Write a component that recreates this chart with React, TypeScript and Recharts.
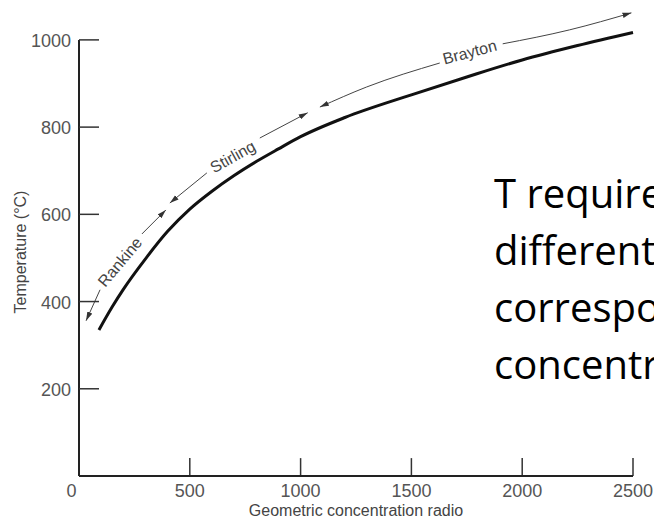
import React from 'react';
import { ComposedChart, Line, XAxis, YAxis, ReferenceLine, Scatter } from 'recharts';

// Geometric concentration ratio vs required temperature (°C)
const curve = [
  { c: 90, t: 335 },
  { c: 150, t: 388 },
  { c: 200, t: 428 },
  { c: 300, t: 498 },
  { c: 400, t: 561 },
  { c: 500, t: 612 },
  { c: 600, t: 653 },
  { c: 700, t: 689 },
  { c: 800, t: 721 },
  { c: 900, t: 750 },
  { c: 1000, t: 778 },
  { c: 1200, t: 822 },
  { c: 1500, t: 874 },
  { c: 1750, t: 915 },
  { c: 2000, t: 954 },
  { c: 2250, t: 987 },
  { c: 2500, t: 1017 },
];

// Engine range annotation arrows (data coordinates)
const rankineLow = [{ c: 32, t: 356 }, { c: 95, t: 427 }];
const rankineHigh = [{ c: 284, t: 555 }, { c: 392, t: 610 }];
const stirlingLow = [{ c: 410, t: 626 }, { c: 577, t: 695 }];
const stirlingHigh = [{ c: 816, t: 775 }, { c: 1032, t: 833 }];
const braytonLow = [{ c: 1087, t: 846 }, { c: 1298, t: 892 }, { c: 1628, t: 947 }];
const braytonHigh = [{ c: 1912, t: 991 }, { c: 2214, t: 1023 }, { c: 2493, t: 1062 }];

const engineLabels = [
  { c: 185, t: 491, name: 'Rankine' },
  { c: 694, t: 732, name: 'Stirling' },
  { c: 1763, t: 972, name: 'Brayton' },
];
const labelAngles: Record<string, number> = { Rankine: -50, Stirling: -29, Brayton: -15 };

const xTicks = [0, 500, 1000, 1500, 2000, 2500];
const yTicks = [0, 200, 400, 600, 800, 1000];

const xAxisTitle = 'Geometric concentration radio';
const yAxisTitle = 'Temperature (°C)';
const noteLines = ['T required for', 'different engines', 'corresponding to', 'concentration ratio'];

const TICK_FONT = '"Liberation Sans", Arial, sans-serif';
const X_TICK_LEN = 41; // inward tick length expressed in temperature units (~18px)

const XTick = (props: any) => {
  const { x, y, payload } = props;
  const v = payload.value;
  return (
    <text x={v === 0 ? x - 7.5 : x} y={y + 21} textAnchor="middle" fontSize={18} fontFamily={TICK_FONT} fill="#555">
      {v}
    </text>
  );
};

const YTick = (props: any) => {
  const { x, y, payload } = props;
  const v = payload.value;
  if (v === 0) return <g />;
  return (
    <g>
      <line x1={x} y1={y} x2={x + 20} y2={y} stroke="#333" strokeWidth={1.5} />
      <text x={x - 8} y={y + 7} textAnchor="end" fontSize={18} fontFamily={TICK_FONT} fill="#555">
        {v}
      </text>
    </g>
  );
};

const EngineLabel = (props: any) => {
  const { cx, cy, payload } = props;
  const a = labelAngles[payload.name] || 0;
  return (
    <text
      x={cx}
      y={cy}
      textAnchor="middle"
      dominantBaseline="central"
      transform={`rotate(${a}, ${cx}, ${cy})`}
      fontSize={16}
      fontFamily={TICK_FONT}
      fill="#444"
    >
      {payload.name}
    </text>
  );
};

const annoProps = {
  type: 'linear' as const,
  dataKey: 't',
  stroke: '#444',
  strokeWidth: 1,
  dot: false,
  activeDot: false,
  isAnimationActive: false,
  legendType: 'none' as const,
};

export default function App() {
  return (
    <div style={{ position: 'absolute', left: 0, top: 0, width: 654, height: 519, overflow: 'hidden', background: '#fff' }}>
      <ComposedChart width={654} height={519} margin={{ top: 5, right: 21, bottom: 3, left: 19 }}>
        <defs>
          <marker
            id="arrowHead"
            viewBox="0 0 10 6"
            refX="10"
            refY="3"
            markerWidth="9"
            markerHeight="6"
            markerUnits="userSpaceOnUse"
            orient="auto-start-reverse"
          >
            <path d="M0,0 L10,3 L0,6 z" fill="#333" />
          </marker>
        </defs>
        <XAxis
          type="number"
          dataKey="c"
          domain={[0, 2500]}
          ticks={xTicks}
          axisLine={{ stroke: '#222', strokeWidth: 2 }}
          tickLine={false}
          tickSize={0}
          tickMargin={0}
          height={40}
          tick={<XTick />}
          interval={0}
        />
        <YAxis
          type="number"
          dataKey="t"
          domain={[0, 1080]}
          ticks={yTicks}
          axisLine={false}
          tickLine={false}
          tickSize={0}
          tickMargin={0}
          width={60}
          tick={<YTick />}
          interval={0}
        />
        <ReferenceLine
          segment={[{ x: 0, y: 0 }, { x: 0, y: 1000 }]}
          stroke="#222"
          strokeWidth={2}
        />
        {xTicks
          .filter((v) => v !== 0)
          .map((v) => (
            <ReferenceLine
              key={`xt-${v}`}
              segment={[{ x: v, y: 0 }, { x: v, y: X_TICK_LEN }]}
              stroke="#333"
              strokeWidth={1.5}
            />
          ))}
        <Line
          data={curve}
          type="monotone"
          dataKey="t"
          stroke="#111"
          strokeWidth={3}
          dot={false}
          activeDot={false}
          isAnimationActive={false}
          legendType="none"
        />
        <Line data={rankineLow} {...annoProps} markerStart="url(#arrowHead)" />
        <Line data={rankineHigh} {...annoProps} markerEnd="url(#arrowHead)" />
        <Line data={stirlingLow} {...annoProps} markerStart="url(#arrowHead)" />
        <Line data={stirlingHigh} {...annoProps} markerEnd="url(#arrowHead)" />
        <Line data={braytonLow} {...annoProps} type="monotone" markerStart="url(#arrowHead)" />
        <Line data={braytonHigh} {...annoProps} type="monotone" markerEnd="url(#arrowHead)" />
        <Scatter data={engineLabels} dataKey="t" shape={<EngineLabel />} isAnimationActive={false} legendType="none" />
        <text x={356} y={516} textAnchor="middle" fontSize={16} fontFamily={TICK_FONT} fill="#444">
          {xAxisTitle}
        </text>
        <text
          x={26}
          y={252}
          textAnchor="middle"
          transform="rotate(-90, 26, 252)"
          fontSize={16}
          fontFamily={TICK_FONT}
          fill="#444"
        >
          {yAxisTitle}
        </text>
        {noteLines.map((line, i) => (
          <text key={line} x={494} y={208 + i * 57} fontSize={40} fontFamily='"Open Sans", sans-serif' fill="#000">
            {line}
          </text>
        ))}
      </ComposedChart>
    </div>
  );
}
